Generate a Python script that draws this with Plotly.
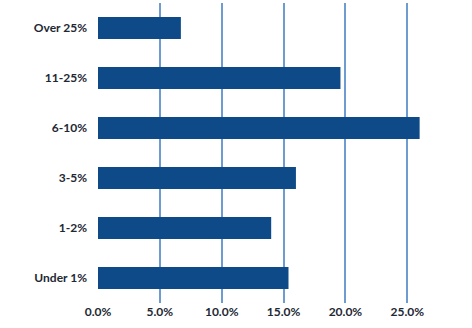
import plotly.graph_objects as go

# Share of respondents by range, in percent
categories = ["Under 1%", "1-2%", "3-5%", "6-10%", "11-25%", "Over 25%"]
shares = [15.4, 14.0, 16.0, 26.0, 19.6, 6.7]
x_ticks = [0, 5, 10, 15, 20, 25]

bar_color = "#0e4a87"
grid_color = "#6e9bd0"
text_color = "#222833"

fig = go.Figure(
    go.Bar(
        x=shares,
        y=categories,
        orientation="h",
        marker=dict(color=bar_color, line=dict(width=0)),
        width=0.44,
    )
)

fig.update_layout(
    width=472,
    height=328,
    margin=dict(l=98, r=40, t=3, b=25),
    paper_bgcolor="white",
    plot_bgcolor="white",
    showlegend=False,
    font=dict(family="Lato", size=12, color=text_color),
    bargap=0.56,
)

fig.update_xaxes(
    range=[0, 27],
    tickvals=x_ticks,
    ticktext=[f"{v:.1f}%" for v in x_ticks],
    showgrid=True,
    gridcolor=grid_color,
    gridwidth=1.5,
    zeroline=False,
    showline=False,
    ticks="",
    tickfont=dict(family="Lato", size=12, color=text_color, weight="bold"),
    fixedrange=True,
)

fig.update_yaxes(
    categoryorder="array",
    categoryarray=categories,
    showgrid=False,
    zeroline=False,
    showline=False,
    ticks="",
    ticklabelstandoff=10,
    tickfont=dict(family="Lato", size=12, color=text_color, weight="bold"),
    fixedrange=True,
)

fig.write_html("out.html")
